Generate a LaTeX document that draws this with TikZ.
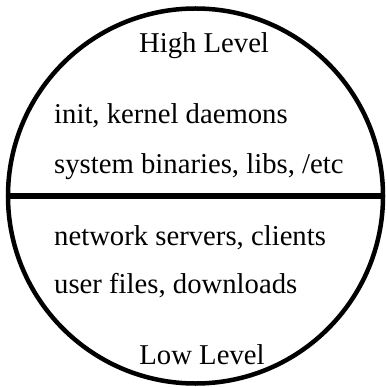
\documentclass[tikz,border=0pt]{standalone}
\usepackage{fontspec}
\setmainfont{Liberation Serif}
\usetikzlibrary{positioning}
\tikzset{lbl/.style={inner sep=0pt, anchor=base west, font=\fontsize{28.7}{34}\selectfont}}
\tikzset{ttl/.style={inner sep=0pt, anchor=base, font=\fontsize{28.7}{34}\selectfont}}

\begin{document}
\begin{tikzpicture}[x=1pt,y=-1pt]
    \useasboundingbox (0,0) rectangle (386,387);
    \node (ring) at (195.5,196) [draw, circle, line width=4.5pt, minimum size=375pt, inner sep=0pt] {};
    \path [draw, line width=5.5pt] (ring.west) -- (ring.east);

    \node (high) at (204,53) [ttl] {High Level};
    \node (init) at (54,124) [lbl] {init, kernel daemons};
    \node (sysbin) at (54,173) [lbl] {system binaries, libs, /etc};
    \node (netsrv) at (54,245) [lbl] {network servers, clients};
    \node (userf) at (54,293) [lbl] {user files, downloads};
    \node (low) at (202,364) [ttl] {Low Level};
    \end{tikzpicture}
\end{document}
